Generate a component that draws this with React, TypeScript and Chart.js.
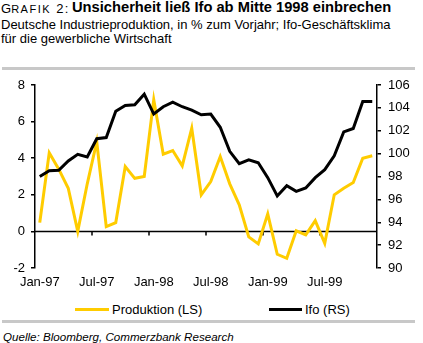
import React, { useEffect, useRef } from "react";
import { Chart, registerables } from "chart.js";

Chart.register(...registerables);

const categories = [
  "Jan-97", "Feb-97", "Mar-97", "Apr-97", "May-97", "Jun-97",
  "Jul-97", "Aug-97", "Sep-97", "Oct-97", "Nov-97", "Dec-97",
  "Jan-98", "Feb-98", "Mar-98", "Apr-98", "May-98", "Jun-98",
  "Jul-98", "Aug-98", "Sep-98", "Oct-98", "Nov-98", "Dec-98",
  "Jan-99", "Feb-99", "Mar-99", "Apr-99", "May-99", "Jun-99",
  "Jul-99", "Aug-99", "Sep-99", "Oct-99", "Nov-99", "Dec-99",
];

const produktion = [
  0.48, 4.3, 3.4, 2.36, 0.0, 2.6, 4.9, 0.26, 0.48, 3.54, 2.9, 3.0,
  7.2, 4.22, 4.42, 3.58, 5.64, 2.0, 2.72, 4.09, 2.6, 1.45, -0.3, -0.68,
  0.96, -1.25, -1.47, 0.03, -0.19, 0.59, -0.65, 2.0, 2.36, 2.67, 4.0, 4.13,
];

const ifo = [
  98.0, 98.5, 98.54, 99.36, 99.94, 99.7, 101.3, 101.4, 103.7, 104.2, 104.27, 105.2,
  103.46, 104.1, 104.5, 104.1, 103.8, 103.4, 103.46, 102.3, 100.2, 99.12, 99.45, 99.2,
  97.9, 96.3, 97.2, 96.7, 97.0, 97.9, 98.6, 99.8, 101.9, 102.2, 104.56, 104.56,
];

const leftAxisRange = [-2, 8];
const rightAxisRange = [90, 106];
const tickStep = 2;
const labelEvery = 6;

const FONT = "'Liberation Sans', Arial, Helvetica, sans-serif";
const YELLOW = "#FFCC00";

const zeroLinePlugin = {
  id: "zeroLine",
  beforeDatasetsDraw(chart: any) {
    const { ctx, chartArea, scales } = chart;
    const y = scales.y.getPixelForValue(0);
    const xs = scales.x;
    ctx.save();
    ctx.strokeStyle = "#000";
    ctx.lineWidth = 1.5;
    ctx.beginPath();
    ctx.moveTo(chartArea.left, y);
    ctx.lineTo(chartArea.right, y);
    for (let k = labelEvery; k < categories.length; k += labelEvery) {
      const px = (xs.getPixelForValue(k - 1) + xs.getPixelForValue(k)) / 2;
      ctx.moveTo(px, y);
      ctx.lineTo(px, y + 4);
    }
    ctx.stroke();
    ctx.restore();
  },
};

function ChartCanvas() {
  const ref = useRef<HTMLCanvasElement | null>(null);
  useEffect(() => {
    if (!ref.current) return;
    const tickFont = { family: FONT, size: 13 };
    const chart = new Chart(ref.current, {
      type: "line",
      data: {
        labels: categories,
        datasets: [
          {
            label: "Produktion (LS)",
            data: produktion,
            borderColor: YELLOW,
            backgroundColor: YELLOW,
            borderWidth: 3,
            pointRadius: 0,
            tension: 0,
            yAxisID: "y",
            order: 2,
          },
          {
            label: "Ifo (RS)",
            data: ifo,
            borderColor: "#000",
            backgroundColor: "#000",
            borderWidth: 3,
            pointRadius: 0,
            tension: 0,
            yAxisID: "y1",
            order: 1,
          },
        ],
      },
      options: {
        responsive: false,
        animation: false,
        events: [],
        layout: { padding: { top: 15, left: 0, right: 0, bottom: 0 } },
        plugins: { legend: { display: false }, tooltip: { enabled: false } },
        scales: {
          x: {
            type: "category",
            offset: true,
            grid: { display: false, drawTicks: false },
            border: { display: false },
            ticks: {
              autoSkip: false,
              maxRotation: 0,
              minRotation: 0,
              padding: 7,
              color: "#000",
              font: tickFont,
              callback: (_v: any, i: number) => (i % labelEvery === 0 ? categories[i] : ""),
            },
            afterFit: (s: any) => {
              s.height = 32;
            },
          },
          y: {
            position: "left",
            min: leftAxisRange[0],
            max: leftAxisRange[1],
            ticks: { stepSize: tickStep, color: "#000", font: tickFont, padding: 6 },
            grid: { drawOnChartArea: false, drawTicks: true, tickLength: 4, color: "#000", lineWidth: 1.5 },
            border: { display: true, color: "#000", width: 1.5 },
            afterFit: (s: any) => {
              s.width = 35;
            },
          },
          y1: {
            position: "right",
            min: rightAxisRange[0],
            max: rightAxisRange[1],
            ticks: { stepSize: tickStep, color: "#000", font: tickFont, padding: 7 },
            grid: { drawOnChartArea: false, drawTicks: true, tickLength: 4, color: "#000", lineWidth: 1.5 },
            border: { display: true, color: "#000", width: 1.5 },
            afterFit: (s: any) => {
              s.width = 46;
            },
          },
        },
      },
      plugins: [zeroLinePlugin],
    } as any);
    return () => chart.destroy();
  }, []);
  return (
    <canvas
      ref={ref}
      width={423}
      height={230}
      style={{ position: "absolute", left: 0, top: 70, width: 423, height: 230 }}
    />
  );
}

export default function App() {
  return (
    <div
      style={{
        position: "absolute",
        left: 0,
        top: 0,
        width: 423,
        height: 343,
        background: "#fff",
        color: "#000",
        fontFamily: FONT,
        overflow: "hidden",
      }}
    >
      <div style={{ position: "absolute", left: 1, top: 1, fontSize: 13, lineHeight: "15px", whiteSpace: "nowrap" }}>
        <span>G</span>
        <span style={{ fontSize: 11, letterSpacing: 1.5 }}>RAFIK</span>
        <span style={{ letterSpacing: 1.5 }}> 2:</span>
      </div>
      <div
        style={{
          position: "absolute",
          left: 72,
          top: 0.4,
          fontSize: 14.7,
          lineHeight: "15px",
          fontWeight: "bold",
          whiteSpace: "nowrap",
        }}
      >
        Unsicherheit ließ Ifo ab Mitte 1998 einbrechen
      </div>
      <div style={{ position: "absolute", left: 1, top: 18, fontSize: 13, lineHeight: "13.5px", whiteSpace: "nowrap" }}>
        Deutsche Industrieproduktion, in % zum Vorjahr; Ifo-Geschäftsklima
        <br />
        für die gewerbliche Wirtschaft
      </div>
      <div style={{ position: "absolute", left: 2, top: 67, width: 413, height: 3, background: "#c8c8c8" }} />
      <ChartCanvas />
      <div style={{ position: "absolute", left: 75, top: 307.7, width: 34, height: 3, background: YELLOW }} />
      <div style={{ position: "absolute", left: 112, top: 303, fontSize: 13, lineHeight: "13px", whiteSpace: "nowrap" }}>
        Produktion (LS)
      </div>
      <div style={{ position: "absolute", left: 269, top: 307.7, width: 33, height: 3, background: "#000" }} />
      <div style={{ position: "absolute", left: 305, top: 303, fontSize: 13, lineHeight: "13px", whiteSpace: "nowrap" }}>
        Ifo (RS)
      </div>
      <div style={{ position: "absolute", left: 2, top: 319.5, width: 413, height: 3, background: "#c8c8c8" }} />
      <div
        style={{
          position: "absolute",
          left: 3,
          top: 331.3,
          fontSize: 11.6,
          lineHeight: "12px",
          fontStyle: "italic",
          whiteSpace: "nowrap",
        }}
      >
        Quelle: Bloomberg, Commerzbank Research
      </div>
    </div>
  );
}
